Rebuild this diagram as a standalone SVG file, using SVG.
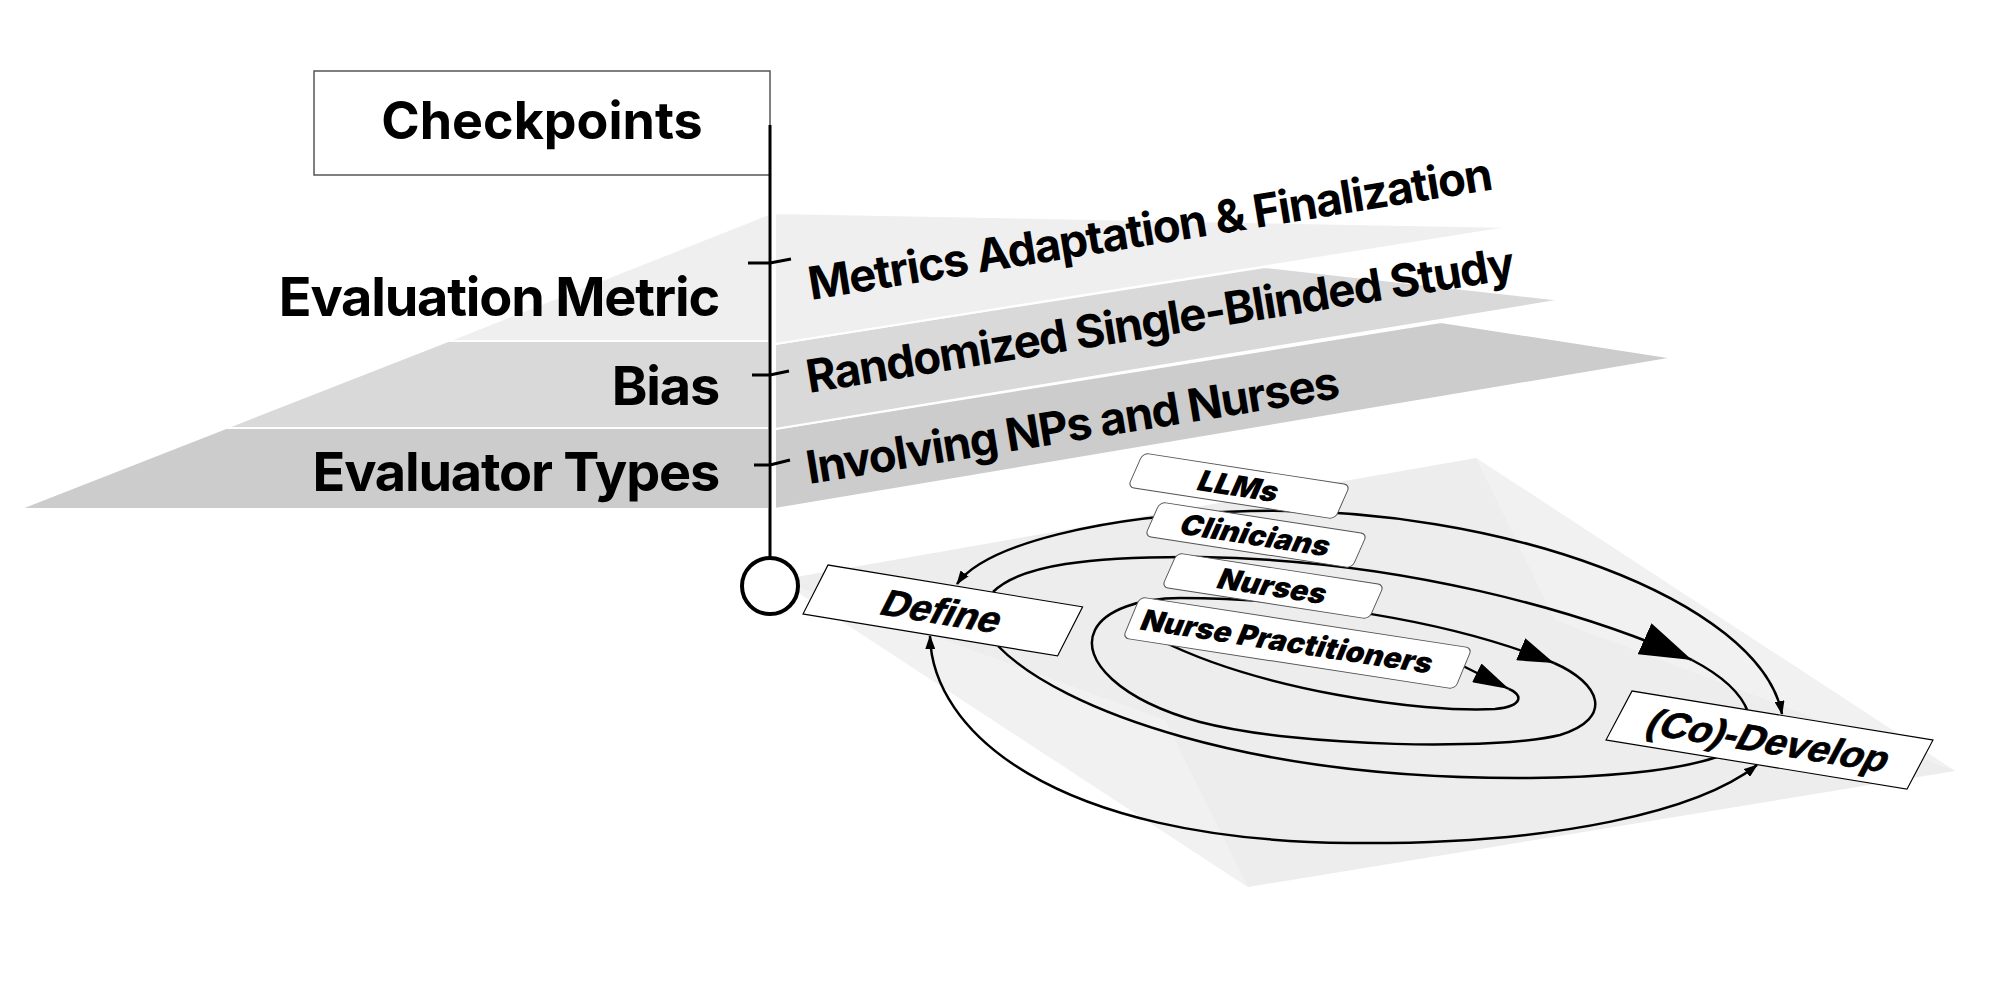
<svg xmlns="http://www.w3.org/2000/svg" width="2006" height="986" viewBox="0 0 2006 986">
<defs>
<style>
.p1{fill:#efefef;stroke:#fff;stroke-width:2}
.p2{fill:#d9d9d9;stroke:#fff;stroke-width:2}
.p3{fill:#cccccc;stroke:#fff;stroke-width:2}
.lbl{font-family:Inter,"Noto Sans",sans-serif;font-weight:700;fill:#000}
.left{font-size:54px;letter-spacing:-1.2px;text-anchor:end}
.rt{font-size:45.5px;letter-spacing:-1.3px}
.edge{fill:none;stroke:#000;stroke-width:2.5}
.tick{fill:none;stroke:#000;stroke-width:3}
.tag{fill:#fff;stroke:#555;stroke-width:1}
.tagtxt{font-family:Inter,"Noto Sans",sans-serif;font-weight:900;font-size:30px;text-anchor:middle;fill:#000}
.box{fill:#fff;stroke:#000;stroke-width:1.2}
.boxtxt{font-family:"Liberation Sans",Arial,sans-serif;font-weight:700;font-size:39px;text-anchor:middle;fill:#000;stroke:#000;stroke-width:0.8}
</style>
<marker id="aS" markerUnits="userSpaceOnUse" viewBox="0 0 14 10" markerWidth="14" markerHeight="10" refX="13" refY="5" orient="auto-start-reverse"><path d="M0,0 L14,5 L0,10 z" fill="#000"/></marker>
<marker id="aL" markerUnits="userSpaceOnUse" viewBox="0 0 52 34" markerWidth="52" markerHeight="34" refX="52" refY="17" orient="auto"><path d="M0,0 L52,17 L0,34 z" fill="#000"/></marker>
<marker id="aM" markerUnits="userSpaceOnUse" viewBox="0 0 36 24" markerWidth="36" markerHeight="24" refX="36" refY="12" orient="auto"><path d="M0,0 L36,12 L0,24 z" fill="#000"/></marker>
<marker id="aD" markerUnits="userSpaceOnUse" viewBox="0 0 36 21" markerWidth="36" markerHeight="21" refX="36" refY="10.5" orient="auto"><path d="M0,0 L36,10.5 L0,21 z" fill="#000"/></marker>
</defs>
<rect width="2006" height="986" fill="#fff"/>

<g id="level-evaluator-types">
<polygon class="p3" points="19,509 226,428 769,428 769,509"/>
<polygon class="p3" points="775,429 1441,322 1674,358 775,509"/>
</g>
<g id="level-bias">
<polygon class="p2" points="226,428 448,341 769,341 769,428"/>
<polygon class="p2" points="775,344 1265,267 1562,300 775,429"/>
</g>
<g id="level-evaluation-metric">
<polygon class="p1" points="448,341 769,214 769,341"/>
<polygon class="p1" points="775,213 1513,227 775,344"/>
</g>
<g id="level-texts">
<text class="lbl left" x="719" y="316">Evaluation Metric</text>
<text class="lbl left" x="719" y="405">Bias</text>
<text class="lbl left" x="719" y="491">Evaluator Types</text>
<text class="lbl rt" transform="translate(811,300) rotate(-9.2)">Metrics Adaptation &amp; Finalization</text>
<text class="lbl rt" transform="translate(809,393) rotate(-9.2)">Randomized Single-Blinded Study</text>
<text class="lbl rt" transform="translate(809,484) rotate(-9.2)">Involving NPs and Nurses</text>
</g>

<g id="ground-plane">
<polygon points="779,580 1476,458 1955,771 1248,887" fill="#ededed"/>
<polygon points="1476,458 1955,771 1555,620" fill="#f1f1f1"/>
<polygon points="779,580 1165,720 1248,887" fill="#f1f1f1"/>
</g>

<g id="checkpoints">
<rect x="314" y="71" width="456" height="104" fill="#fff" stroke="#555" stroke-width="1.5"/>
<text class="lbl" x="542" y="139" font-size="52" text-anchor="middle">Checkpoints</text>
</g>

<g id="timeline">
<line x1="770" y1="125" x2="770" y2="558" stroke="#000" stroke-width="3"/>
<path class="tick" d="M748,263 H770 L791,259"/>
<path class="tick" d="M752,375 H770 L789,371"/>
<path class="tick" d="M754,465 H770 L790,460"/>
<circle cx="770" cy="586" r="28" fill="#fff" stroke="#000" stroke-width="4"/>
</g>

<g id="connectors">
<path class="edge" d="M957,584 C985,545 1100,515 1250,511 C1500,505 1760,600 1782,714" marker-start="url(#aS)" marker-end="url(#aS)"/>
<path class="edge" d="M930,636 C932,730 1050,840 1350,843 C1560,845 1700,810 1757,765" marker-start="url(#aS)" marker-end="url(#aS)"/>
<path class="edge" d="M993,592 C1020,565 1090,556 1200,557 C1400,560 1580,610 1692,660" marker-end="url(#aL)"/>
<path class="edge" d="M1692,660 C1715,672 1740,690 1748,712"/>
<path class="edge" d="M998,646 C1060,710 1250,780 1530,778 C1620,777 1680,770 1720,756"/>
<path class="edge" d="M1180,598 C1300,598 1450,620 1554,663" marker-end="url(#aM)"/>
<path class="edge" d="M1554,663 C1600,683 1615,718 1560,735 C1500,750 1300,748 1200,722 C1120,700 1080,660 1095,630 C1105,610 1140,598 1180,598"/>
<path class="edge" d="M1445,657 L1509,689" marker-end="url(#aD)"/>
<path class="edge" d="M1509,689 C1522,694 1525,706 1495,709 C1420,713 1260,690 1160,640"/>
</g>

<g id="tag-llms" transform="matrix(0.9881 0.1527 -0.4034 0.9143 1143 453)">
<rect class="tag" width="209.5" height="37.2" rx="6"/>
<text class="tagtxt" x="104.75" y="29.5">LLMs</text>
</g>
<g id="tag-clinicians" transform="matrix(0.9881 0.1527 -0.4034 0.9143 1160 502)">
<rect class="tag" width="209.5" height="37.2" rx="6"/>
<text class="tagtxt" x="104.75" y="29.5">Clinicians</text>
</g>
<g id="tag-nurses" transform="matrix(0.9881 0.1527 -0.4034 0.9143 1177 553)">
<rect class="tag" width="209.5" height="37.2" rx="6"/>
<text class="tagtxt" x="104.75" y="29.5">Nurses</text>
</g>
<g id="tag-np" transform="matrix(0.9881 0.1518 -0.383 0.9234 1140 597)">
<rect class="tag" width="336" height="44.4" rx="6"/>
<text class="tagtxt" x="158" y="33">Nurse Practitioners</text>
</g>

<g id="node-define" transform="matrix(0.9868 0.1625 -0.4545 0.8909 828 565)">
<rect class="box" width="258" height="55"/>
<text class="boxtxt" x="129" y="42">Define</text>
</g>
<g id="node-codevelop" transform="matrix(0.9869 0.1607 -0.4685 0.8829 1632 691)">
<rect class="box" width="305" height="55.5"/>
<text class="boxtxt" x="152.5" y="42">(Co)-Develop</text>
</g>
</svg>
